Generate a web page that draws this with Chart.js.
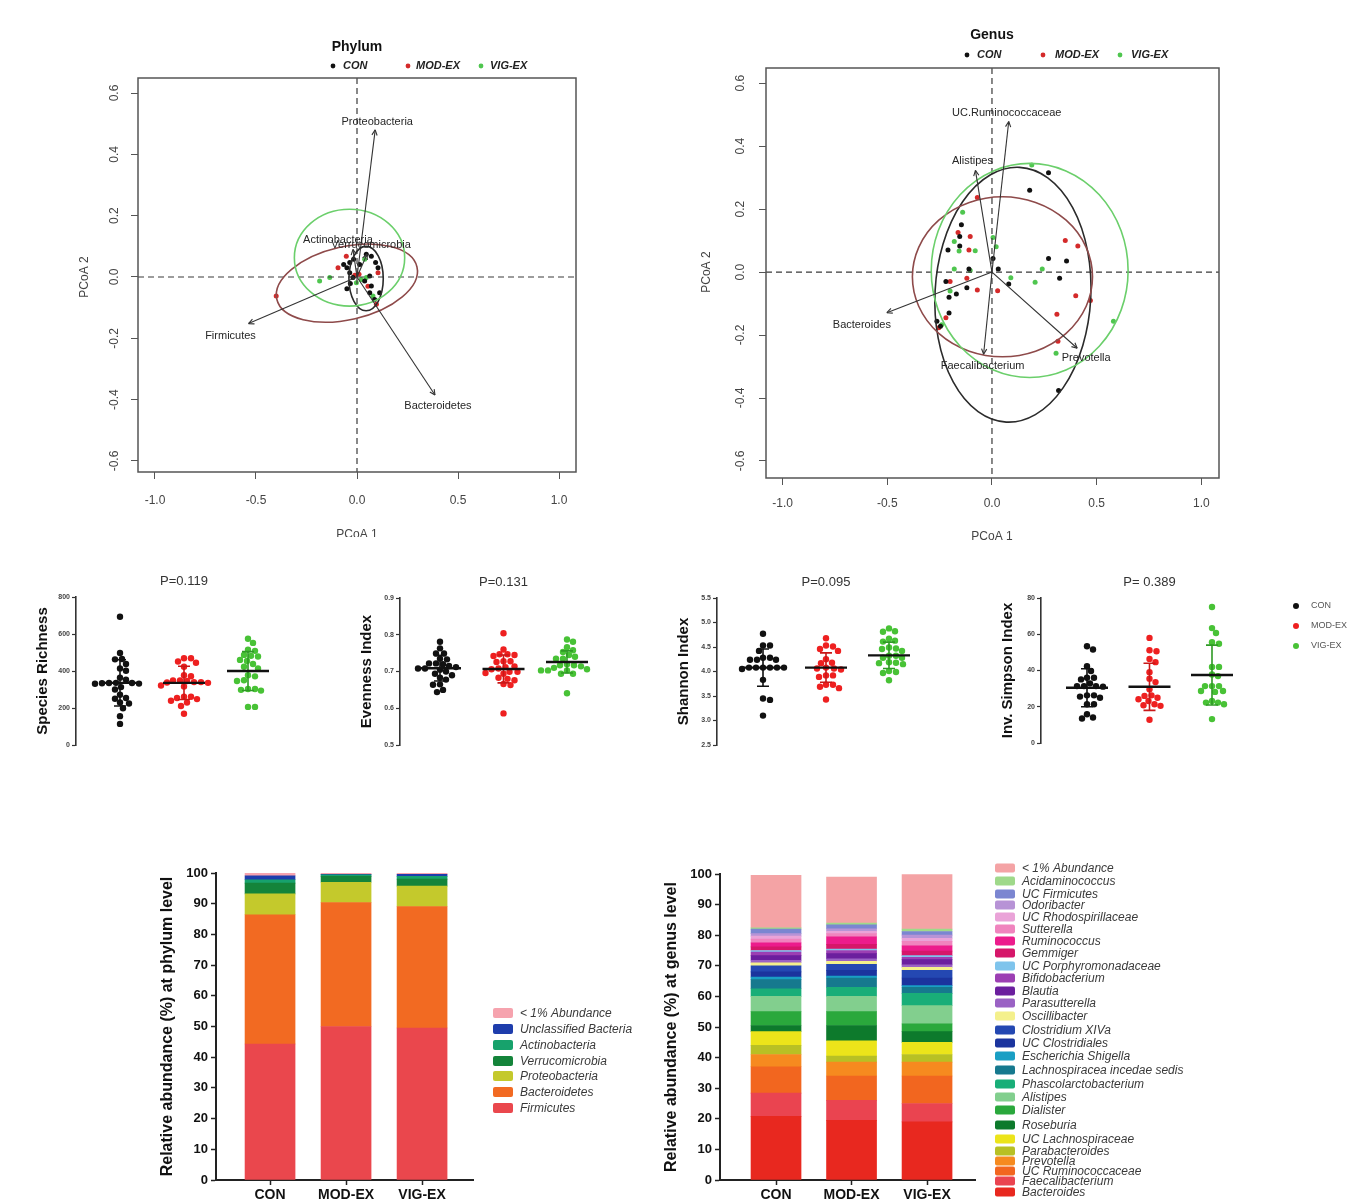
<!DOCTYPE html>
<html lang="en">
<head>
<meta charset="utf-8">
<title>Gut microbiota by exercise group: PCoA, alpha diversity and relative abundance</title>
<script src="https://cdn.jsdelivr.net/npm/chart.js@4.4.1/dist/chart.umd.min.js"></script>
<style>
  html, body { margin: 0; padding: 0; background: #ffffff; }
  body { position: relative; width: 1361px; height: 1204px; overflow: hidden; }
  canvas { position: absolute; display: block; }
</style>
</head>
<body>
<script>
// ---------------------------------------------------------------- data
const groups = ['CON', 'MOD-EX', 'VIG-EX'];

// PCoA (phylum level): sample scores [PCoA 1, PCoA 2]
const phylumCON = [[-0.066,0.041],[-0.05,0.03],[-0.036,0.014],[-0.033,-0.021],[-0.05,-0.038],[-0.017,0.058],
  [0.046,0.074],[0.071,0.068],[0.092,0.047],[0.104,0.03],[0.063,0.003],[0.038,-0.013],[0.071,-0.029],
  [0.063,-0.051],[0.112,-0.051],[-0.036,0.047],[0.013,0.041],[-0.02,-0.002],[0.087,-0.073]];
const phylumMOD = [[-0.4,-0.062],[-0.094,0.03],[-0.053,0.068],[0.104,0.014],[0.096,-0.089],[0.01,0.009],
  [0.054,-0.03],[-0.011,0.006]];
const phylumVIG = [[-0.185,-0.013],[-0.135,-0.002],[0.021,-0.008],[0.046,-0.002],[-0.003,-0.019],
  [0.079,-0.062],[0.038,0.058]];
// fitted phylum vectors
const phylumVectorNames = ['Proteobacteria', 'Firmicutes', 'Bacteroidetes', 'Actinobacteria', 'Verrucomicrobia'];
const phylumVectorX = [0.09, -0.537, 0.386, -0.02, 0.05];
const phylumVectorY = [0.48, -0.152, -0.385, 0.09, 0.075];
// group ellipses: centre, half-axes, tilt (deg)
const phylumEllipseCX = [0.045, -0.05, -0.037];
const phylumEllipseCY = [-0.005, -0.02, 0.063];
const phylumEllipseRX = [0.085, 0.356, 0.273];
const phylumEllipseRY = [0.105, 0.119, 0.158];
const phylumEllipseTilt = [0, -13, 0];

// PCoA (genus level)
const genusCON = [[0.27,0.315],[0.18,0.26],[-0.146,0.15],[-0.154,0.113],[-0.154,0.083],[-0.21,0.07],[-0.11,0.01],
  [0.005,0.043],[0.03,0.01],[0.27,0.043],[0.356,0.035],[0.323,-0.02],[0.08,-0.038],[-0.17,-0.07],[-0.205,-0.08],
  [-0.205,-0.13],[-0.263,-0.156],[-0.246,-0.172],[0.318,-0.376],[-0.22,-0.03],[-0.12,-0.05]];
const genusMOD = [[-0.07,0.237],[-0.162,0.126],[-0.104,0.113],[-0.12,-0.02],[-0.07,-0.057],[0.027,-0.059],
  [0.35,0.10],[0.41,0.083],[0.40,-0.075],[0.47,-0.09],[0.31,-0.134],[0.315,-0.22],[-0.254,-0.177],
  [-0.22,-0.145],[-0.2,-0.03],[-0.11,0.07]];
const genusVIG = [[-0.18,0.097],[-0.157,0.067],[-0.08,0.068],[-0.18,0.01],[-0.104,0.005],[0.02,0.08],
  [0.005,0.11],[0.09,-0.018],[0.206,-0.032],[0.24,0.01],[-0.24,-0.167],[0.306,-0.258],[0.58,-0.156],
  [-0.2,-0.06],[0.19,0.34],[-0.14,0.19]];
const genusVectorNames = ['UC.Ruminococcaceae', 'Alistipes', 'Bacteroides', 'Faecalibacterium', 'Prevotella'];
const genusVectorX = [0.08, -0.079, -0.502, -0.04, 0.407];
const genusVectorY = [0.478, 0.323, -0.129, -0.261, -0.242];
const genusEllipseCX = [0.1, 0.05, 0.18];
const genusEllipseCY = [-0.072, -0.015, 0.005];
const genusEllipseRX = [0.372, 0.43, 0.47];
const genusEllipseRY = [0.405, 0.254, 0.34];
const genusEllipseTilt = [3, 0, 0];

const pcoaXTicks = [-1.0, -0.5, 0.0, 0.5, 1.0];
const pcoaYTicks = [-0.6, -0.4, -0.2, 0.0, 0.2, 0.4, 0.6];

// Alpha diversity, one value per subject
const richCON = [693,497,465,463,438,414,401,364,353,336,335,335,334,332,331,313,300,272,254,250,230,224,199,156,114];
const richMOD = [469,469,451,445,423,377,372,349,349,346,340,340,338,336,322,316,261,261,254,248,239,230,211,169];
const richVIG = [574,552,515,509,487,482,478,460,454,438,423,414,377,371,350,346,303,303,298,294,206,206];
const richMean = [336, 336, 400];
const richSD = [125, 90, 105];

const evenCON = [0.781,0.763,0.749,0.749,0.735,0.733,0.722,0.720,0.722,0.715,0.712,0.708,0.705,0.708,0.700,0.694,0.690,0.683,0.678,0.664,0.665,0.644,0.650];
const evenMOD = [0.804,0.760,0.747,0.745,0.747,0.742,0.728,0.728,0.726,0.714,0.712,0.708,0.706,0.699,0.699,0.696,0.694,0.683,0.680,0.676,0.666,0.663,0.586];
const evenVIG = [0.787,0.781,0.766,0.758,0.753,0.745,0.740,0.735,0.735,0.720,0.717,0.717,0.714,0.710,0.706,0.703,0.703,0.703,0.694,0.694,0.641];
const evenMean = [0.709, 0.707, 0.726];
const evenSD = [0.035, 0.038, 0.03];

const shanCON = [4.77,4.53,4.53,4.42,4.28,4.28,4.24,4.24,4.24,4.08,4.08,4.08,4.08,4.08,4.08,4.05,3.83,3.45,3.42,3.10];
const shanMOD = [4.68,4.53,4.51,4.46,4.42,4.25,4.18,4.17,4.08,4.06,4.06,4.04,3.92,3.92,3.89,3.73,3.73,3.69,3.66,3.43];
const shanVIG = [4.88,4.82,4.81,4.67,4.63,4.61,4.49,4.47,4.46,4.42,4.32,4.32,4.28,4.28,4.19,4.18,4.17,4.15,4.01,3.99,3.97,3.82];
const shanMean = [4.08, 4.08, 4.33];
const shanSD = [0.38, 0.3, 0.27];

const simpCON = [53.4,51.6,42.4,39.7,36.0,36.0,35.1,32.9,31.4,31.4,31.1,31.4,26.3,26.3,25.6,25.0,21.4,21.4,15.9,13.5,14.1];
const simpMOD = [58,50.6,51.2,46.4,44.6,39.1,35.5,33.6,29.6,26.3,26.0,25.0,24.1,23.2,21.4,20.8,20.5,12.8];
const simpVIG = [75,63.4,60.7,55.6,54.8,42.0,42.0,37.8,36.9,31.4,31.4,31.4,28.7,28.7,28.2,23.2,22.3,22.3,21.4,13.2];
const simpMean = [30.5, 31, 37.5];
const simpSD = [10.5, 13, 16.5];

const richTicks = [0, 200, 400, 600, 800];
const evenTicks = [0.5, 0.6, 0.7, 0.8, 0.9];
const shanTicks = [2.5, 3.0, 3.5, 4.0, 4.5, 5.0, 5.5];
const simpTicks = [0, 20, 40, 60, 80];

// Relative abundance (%), taxa listed from the bottom of each stack upward
const phylumTaxa = ['Firmicutes', 'Bacteroidetes', 'Proteobacteria', 'Verrucomicrobia', 'Actinobacteria',
  'Unclassified Bacteria', '< 1% Abundance'];
const phylumCONpct = [44.3, 42.1, 6.8, 3.5, 1.1, 1.3, 0.9];
const phylumMODpct = [50.0, 40.4, 6.6, 1.9, 0.5, 0.2, 0.4];
const phylumVIGpct = [49.5, 39.6, 6.6, 2.3, 0.9, 0.7, 0.4];

const genusTaxa = ['Bacteroides', 'Faecalibacterium', 'UC Ruminococcaceae', 'Prevotella', 'Parabacteroides',
  'UC Lachnospiraceae', 'Roseburia', 'Dialister', 'Alistipes', 'Phascolarctobacterium',
  'Lachnospiracea incedae sedis', 'Escherichia Shigella', 'UC Clostridiales', 'Clostridium XIVa',
  'Oscillibacter', 'Parasutterella', 'Blautia', 'Bifidobacterium', 'UC Porphyromonadaceae', 'Gemmiger',
  'Ruminococcus', 'Sutterella', 'UC Rhodospirillaceae', 'Odoribacter', 'UC Firmicutes', 'Acidaminococcus',
  '< 1% Abundance'];
const genusCONpct = [20.8,7.6,8.6,4.0,3.0,4.5,2.0,4.5,5.0,2.5,3.0,0.8,1.7,2.0,1.0,0.8,1.5,1.2,0.5,1.2,1.3,1.2,1.0,0.8,1.5,0.4,17.2];
const genusMODpct = [19.5,6.5,8.0,4.5,2.0,5.0,5.0,4.5,5.0,3.0,3.0,0.6,1.9,2.0,1.0,0.8,1.7,1.0,0.5,1.5,2.5,1.0,0.8,0.8,1.3,0.6,15.0];
const genusVIGpct = [19.0,6.0,9.0,4.5,2.5,4.0,3.5,2.5,6.0,4.0,2.0,0.5,2.5,2.5,1.0,0.8,1.7,0.8,0.5,1.5,1.7,1.5,1.0,1.0,1.2,0.8,17.8];

// ---------------------------------------------------------------- styles
const FONT = '"Liberation Sans", Arial, Helvetica, sans-serif';
Chart.defaults.font.family = FONT;
Chart.defaults.animation = false;
Chart.defaults.events = [];
Chart.defaults.plugins.legend.display = false;
Chart.defaults.plugins.tooltip.enabled = false;

const PCOA_POINT = ['#111111', '#d42a2a', '#4fc64f'];
const PCOA_RING = ['#2b2b2b', '#8e4a4a', '#6bcf6b'];
const ALPHA_POINT = ['#111111', '#ee2020', '#48c236'];
const ALPHA_BAR = ['#111111', '#c81818', '#2f9a25'];

const phylumColors = ['#ea474d', '#f26a22', '#c4c92c', '#14843a', '#17a26c', '#1e3dac', '#f6a3ae'];
const genusColors = ['#e8281f', '#ea4450', '#f2661f', '#f68a1f', '#b8c024', '#ece41a', '#0d7a2c', '#2aa83c',
  '#82cf8e', '#19ae78', '#16798e', '#1a9fc4', '#1b349e', '#2448b2', '#f4f08c', '#9a62c4', '#6b1f9e',
  '#9c3fb3', '#7fc4ec', '#d6176a', '#ec1c8c', '#f084be', '#eaa3d8', '#b793d6', '#7b86d1', '#9fd98a', '#f4a3a5'];

function makeCanvas(left, top, w, h) {
  const c = document.createElement('canvas');
  c.width = w; c.height = h;
  c.style.left = left + 'px'; c.style.top = top + 'px';
  c.style.width = w + 'px'; c.style.height = h + 'px';
  document.body.appendChild(c);
  return c;
}

function arrow(ctx, x0, y0, x1, y1) {
  const ang = Math.atan2(y1 - y0, x1 - x0), h = 6, w = 0.45;
  ctx.beginPath(); ctx.moveTo(x0, y0); ctx.lineTo(x1, y1); ctx.stroke();
  ctx.beginPath();
  ctx.moveTo(x1, y1);
  ctx.lineTo(x1 - h * Math.cos(ang - w), y1 - h * Math.sin(ang - w));
  ctx.moveTo(x1, y1);
  ctx.lineTo(x1 - h * Math.cos(ang + w), y1 - h * Math.sin(ang + w));
  ctx.stroke();
}

// ---------------------------------------------------------------- PCoA biplots
function drawPcoa(o) {
  const canvas = makeCanvas(o.left, o.top, o.width, o.height);
  const datasets = o.points.map((pts, g) => ({
    label: groups[g],
    data: pts.map(p => ({ x: p[0], y: p[1] })),
    pointRadius: 2.5, pointBackgroundColor: PCOA_POINT[g], pointBorderWidth: 0
  }));
  const decor = {
    id: 'pcoaDecor',
    afterDatasetsDraw(chart) {
      const { ctx, chartArea: a } = chart;
      const xs = chart.scales.x, ys = chart.scales.y;
      const px = v => xs.getPixelForValue(v), py = v => ys.getPixelForValue(v);
      ctx.save();
      // dashed lines through the origin
      ctx.strokeStyle = '#3a3a3a'; ctx.lineWidth = 1.2; ctx.setLineDash([6, 4]);
      ctx.beginPath();
      ctx.moveTo(a.left, py(0)); ctx.lineTo(a.right, py(0));
      ctx.moveTo(px(0), a.top); ctx.lineTo(px(0), a.bottom);
      ctx.stroke();
      ctx.setLineDash([]);
      // group ellipses
      o.ell.cx.forEach((cx, g) => {
        const cxp = px(cx), cyp = py(o.ell.cy[g]);
        const rxp = px(cx + o.ell.rx[g]) - cxp;
        const ryp = cyp - py(o.ell.cy[g] + o.ell.ry[g]);
        ctx.beginPath();
        ctx.ellipse(cxp, cyp, rxp, ryp, o.ell.tilt[g] * Math.PI / 180, 0, Math.PI * 2);
        ctx.strokeStyle = PCOA_RING[g]; ctx.lineWidth = 1.6; ctx.stroke();
      });
      // taxon vectors
      ctx.strokeStyle = '#333'; ctx.lineWidth = 1.1;
      o.vec.names.forEach((n, i) => arrow(ctx, px(0), py(0), px(o.vec.x[i]), py(o.vec.y[i])));
      ctx.font = '11px ' + FONT; ctx.fillStyle = '#262626';
      ctx.textAlign = 'center'; ctx.textBaseline = 'middle';
      o.vec.names.forEach((n, i) => {
        const off = o.labelOffset[i];
        ctx.fillText(n, px(o.vec.x[i]) + off[0], py(o.vec.y[i]) + off[1]);
      });
      // frame
      ctx.strokeStyle = '#555'; ctx.lineWidth = 1.5;
      ctx.strokeRect(a.left, a.top, a.right - a.left, a.bottom - a.top);
      // y tick labels, parallel to the axis
      ctx.font = '12px ' + FONT; ctx.fillStyle = '#444';
      pcoaYTicks.forEach(v => {
        ctx.save(); ctx.translate(a.left - o.yLabelGap, py(v)); ctx.rotate(-Math.PI / 2);
        ctx.fillText(v.toFixed(1), 0, 0); ctx.restore();
      });
      // axis titles
      ctx.fillText('PCoA 1', px(0), a.bottom + o.xTitleGap);
      ctx.save(); ctx.translate(a.left - o.yTitleGap, py(0)); ctx.rotate(-Math.PI / 2);
      ctx.fillText('PCoA 2', 0, 0); ctx.restore();
      // title and group key
      ctx.font = 'bold 14px ' + FONT; ctx.fillStyle = '#111';
      ctx.fillText(o.title, px(0), o.titleY);
      ctx.font = 'italic bold 11px ' + FONT; ctx.textAlign = 'left';
      groups.forEach((g, i) => {
        ctx.beginPath(); ctx.arc(o.keyDotX[i], o.keyY, 2.4, 0, Math.PI * 2);
        ctx.fillStyle = PCOA_POINT[i]; ctx.fill();
        ctx.fillStyle = '#222'; ctx.fillText(g, o.keyTextX[i], o.keyY);
      });
      ctx.restore();
    }
  };
  return new Chart(canvas, {
    type: 'scatter',
    data: { datasets },
    options: {
      responsive: false,
      layout: { padding: { left: o.pad[0], top: o.pad[1], right: o.pad[2], bottom: 0 } },
      scales: {
        x: {
          type: 'linear', min: o.xRange[0], max: o.xRange[1],
          afterBuildTicks: s => { s.ticks = pcoaXTicks.map(v => ({ value: v })); },
          afterFit: s => { s.height = o.xAxisHeight; },
          ticks: { color: '#444', font: { size: 12 }, padding: o.xLabelPad, maxRotation: 0, minRotation: 0,
            autoSkip: false, callback: v => Number(v).toFixed(1) },
          grid: { drawOnChartArea: false, drawTicks: true, tickLength: 7, tickColor: '#555', tickWidth: 1 },
          border: { display: false }
        },
        y: {
          type: 'linear', min: o.yRange[0], max: o.yRange[1],
          afterBuildTicks: s => { s.ticks = pcoaYTicks.map(v => ({ value: v })); },
          afterFit: s => { s.width = 0; },
          ticks: { display: false },
          grid: { drawOnChartArea: false, drawTicks: true, tickLength: 7, tickColor: '#555', tickWidth: 1 },
          border: { display: false }
        }
      }
    },
    plugins: [decor]
  });
}

drawPcoa({
  left: 60, top: 20, width: 560, height: 517,
  pad: [78, 58, 44], xAxisHeight: 65, xLabelPad: 14,
  xRange: [-1.084, 1.084], yRange: [-0.636, 0.649],
  points: [phylumCON, phylumMOD, phylumVIG],
  ell: { cx: phylumEllipseCX, cy: phylumEllipseCY, rx: phylumEllipseRX, ry: phylumEllipseRY, tilt: phylumEllipseTilt },
  vec: { names: phylumVectorNames, x: phylumVectorX, y: phylumVectorY },
  labelOffset: [[2, -8], [-18, 12], [3, 11], [-15, -9], [4, -9]],
  yLabelGap: 23, yTitleGap: 53, xTitleGap: 63,
  title: 'Phylum', titleY: 27, keyY: 46, keyDotX: [273, 348, 421], keyTextX: [283, 356, 430]
});

drawPcoa({
  left: 690, top: 10, width: 560, height: 545,
  pad: [76, 58, 31], xAxisHeight: 77, xLabelPad: 11,
  xRange: [-1.079, 1.084], yRange: [-0.654, 0.648],
  points: [genusCON, genusMOD, genusVIG],
  ell: { cx: genusEllipseCX, cy: genusEllipseCY, rx: genusEllipseRX, ry: genusEllipseRY, tilt: genusEllipseTilt },
  vec: { names: genusVectorNames, x: genusVectorX, y: genusVectorY },
  labelOffset: [[-2, -9], [-3, -9], [-25, 12], [-1, 12], [9, 10]],
  yLabelGap: 25, yTitleGap: 59, xTitleGap: 59,
  title: 'Genus', titleY: 25, keyY: 45, keyDotX: [277, 353, 430], keyTextX: [287, 365, 441]
});

// ---------------------------------------------------------------- alpha diversity dot plots
// sideways spread so that dots of similar height do not sit on top of each other
function swarmOffsets(pys, sep) {
  const order = pys.map((p, i) => i).sort((a, b) => pys[a] - pys[b]);
  const placed = [], offs = new Array(pys.length);
  const d2 = sep * sep;
  order.forEach(i => {
    let best = 0;
    for (let k = 0; k < 400; k++) {
      const o = k === 0 ? 0 : (k % 2 ? 1 : -1) * Math.ceil(k / 2);
      if (placed.every(p => (p.x - o) ** 2 + (p.y - pys[i]) ** 2 >= d2)) { best = o; break; }
    }
    placed.push({ x: best, y: pys[i] });
    offs[i] = best;
  });
  return offs;
}

function drawAlpha(o) {
  const top = 560, height = 200, leftGap = 56, rightPad = 10;
  const spacing = (o.groupX[2] - o.groupX[0]) / 2;
  const left = o.axisX - leftGap;
  const width = o.width || (o.groupX[2] - o.axisX + 100);
  const canvas = makeCanvas(left, top, width, height);
  const xMin = 1 - (o.groupX[0] - o.axisX) / spacing;
  const xMax = xMin + (width - leftGap - rightPad) / spacing;
  const R = 3.2;
  const datasets = o.values.map((vals, g) => ({
    label: groups[g],
    data: vals.map(v => ({ x: g + 1, y: v })),
    pointRadius: R, pointBackgroundColor: ALPHA_POINT[g], pointBorderWidth: 0
  }));
  const decor = {
    id: 'alphaDecor',
    afterDatasetsDraw(chart) {
      const { ctx, chartArea: a } = chart;
      const xs = chart.scales.x, ys = chart.scales.y;
      ctx.save();
      o.mean.forEach((m, g) => {
        const cx = xs.getPixelForValue(g + 1);
        const ym = ys.getPixelForValue(m);
        const yt = ys.getPixelForValue(m + o.sd[g]), yb = ys.getPixelForValue(m - o.sd[g]);
        ctx.strokeStyle = ALPHA_BAR[g]; ctx.lineWidth = 1.6;
        ctx.beginPath();
        ctx.moveTo(cx, yt); ctx.lineTo(cx, yb);
        ctx.moveTo(cx - 6, yt); ctx.lineTo(cx + 6, yt);
        ctx.moveTo(cx - 6, yb); ctx.lineTo(cx + 6, yb);
        ctx.stroke();
        ctx.strokeStyle = '#111'; ctx.lineWidth = 2.4;
        ctx.beginPath(); ctx.moveTo(cx - 21, ym); ctx.lineTo(cx + 21, ym); ctx.stroke();
      });
      ctx.textAlign = 'center'; ctx.textBaseline = 'middle';
      ctx.font = '13px ' + FONT; ctx.fillStyle = '#333';
      ctx.fillText(o.title, xs.getPixelForValue(2), a.top - 16);
      ctx.font = 'bold 15px ' + FONT; ctx.fillStyle = '#111';
      ctx.save(); ctx.translate(a.left - 33, (a.top + a.bottom) / 2); ctx.rotate(-Math.PI / 2);
      ctx.fillText(o.yTitle, 0, 0); ctx.restore();
      if (o.key) {
        ctx.font = '9px ' + FONT; ctx.textAlign = 'left';
        groups.forEach((g, i) => {
          const yy = o.key.y + i * 20;
          ctx.beginPath(); ctx.arc(o.key.dotX, yy, 3, 0, Math.PI * 2);
          ctx.fillStyle = ALPHA_POINT[i]; ctx.fill();
          ctx.fillStyle = '#555'; ctx.fillText(g, o.key.textX, yy);
        });
      }
      ctx.restore();
    }
  };
  const chart = new Chart(canvas, {
    type: 'scatter',
    data: { datasets },
    options: {
      responsive: false,
      layout: { padding: { left: leftGap - 22, top: o.top - top, right: rightPad, bottom: height - (o.bottom - top) } },
      scales: {
        x: { type: 'linear', display: false, min: xMin, max: xMax },
        y: {
          type: 'linear', min: o.ticks[0], max: o.ticks[o.ticks.length - 1],
          afterBuildTicks: s => { s.ticks = o.ticks.map(v => ({ value: v })); },
          afterFit: s => { s.width = 22; },
          ticks: { font: { size: 7, weight: 'bold' }, color: '#444', padding: 2, autoSkip: false,
            callback: v => o.fmt(Number(v)) },
          grid: { drawOnChartArea: false, drawTicks: true, tickLength: 4, tickColor: '#333', tickWidth: 1.2 },
          border: { display: true, color: '#333', width: 1.6 }
        }
      }
    },
    plugins: [decor]
  });
  const xs = chart.scales.x, ys = chart.scales.y;
  const unit = xs.getPixelForValue(2) - xs.getPixelForValue(1);
  chart.data.datasets.forEach((ds, g) => {
    const offs = swarmOffsets(o.values[g].map(v => ys.getPixelForValue(v)), 2 * R * 0.97);
    ds.data = o.values[g].map((v, i) => ({ x: g + 1 + offs[i] / unit, y: v }));
  });
  chart.update();
  return chart;
}

drawAlpha({ axisX: 76, groupX: [120, 185, 248], top: 597, bottom: 745,
  values: [richCON, richMOD, richVIG], mean: richMean, sd: richSD, ticks: richTicks,
  fmt: v => String(v), title: 'P=0.119', yTitle: 'Species Richness' });
drawAlpha({ axisX: 400, groupX: [440, 504, 567], top: 598, bottom: 745,
  values: [evenCON, evenMOD, evenVIG], mean: evenMean, sd: evenSD, ticks: evenTicks,
  fmt: v => v.toFixed(1), title: 'P=0.131', yTitle: 'Evenness Index' });
drawAlpha({ axisX: 717, groupX: [763, 826, 889], top: 598, bottom: 745,
  values: [shanCON, shanMOD, shanVIG], mean: shanMean, sd: shanSD, ticks: shanTicks,
  fmt: v => v.toFixed(1), title: 'P=0.095', yTitle: 'Shannon Index' });
drawAlpha({ axisX: 1041, groupX: [1087, 1149, 1212], top: 598, bottom: 743, width: 376,
  values: [simpCON, simpMOD, simpVIG], mean: simpMean, sd: simpSD, ticks: simpTicks,
  fmt: v => String(v), title: 'P= 0.389', yTitle: 'Inv. Simpson Index',
  key: { dotX: 311, textX: 326, y: 46 } });

// ---------------------------------------------------------------- stacked relative abundance
function drawStack(o) {
  const canvas = makeCanvas(o.left, o.top, o.width, o.height);
  const pct = [o.con, o.mod, o.vig];
  const datasets = o.taxa.map((name, i) => ({
    label: name,
    data: pct.map((arr, g) => ({ x: g + 1, y: arr[i] })),
    backgroundColor: o.colors[i], borderWidth: 0, barThickness: o.barWidth
  }));
  const decor = {
    id: 'stackDecor',
    afterDraw(chart) {
      const { ctx, chartArea: a } = chart;
      ctx.save();
      ctx.font = 'bold 16px ' + FONT; ctx.fillStyle = '#111';
      ctx.textAlign = 'center'; ctx.textBaseline = 'middle';
      ctx.save(); ctx.translate(o.yTitleX, (a.top + a.bottom) / 2); ctx.rotate(-Math.PI / 2);
      ctx.fillText(o.yTitle, 0, 0); ctx.restore();
      ctx.font = 'italic 12px ' + FONT; ctx.textAlign = 'left';
      const n = o.taxa.length;
      for (let k = 0; k < n; k++) {
        const i = n - 1 - k, yy = o.keyY[k];
        ctx.fillStyle = o.colors[i];
        ctx.beginPath();
        ctx.roundRect(o.keyBoxX, yy - o.keyBoxH / 2, 20, o.keyBoxH, 2);
        ctx.fill();
        ctx.fillStyle = '#3a3a3a';
        ctx.fillText(o.taxa[i], o.keyTextX, yy + 0.5);
      }
      ctx.restore();
    }
  };
  return new Chart(canvas, {
    type: 'bar',
    data: { datasets },
    options: {
      responsive: false,
      layout: { padding: { left: o.chartLeft - 40, top: o.chartTop, right: o.width - o.chartRight, bottom: 0 } },
      scales: {
        x: {
          type: 'linear', stacked: true, offset: false, min: o.xRange[0], max: o.xRange[1],
          afterBuildTicks: s => { s.ticks = [1, 2, 3].map(v => ({ value: v })); },
          afterFit: s => { s.height = o.height - o.chartBottom; },
          ticks: { font: { size: 14, weight: 'bold' }, color: '#111', padding: 2, maxRotation: 0, minRotation: 0,
            autoSkip: false, callback: v => groups[Math.round(v) - 1] },
          grid: { offset: false, drawOnChartArea: false, drawTicks: true, tickLength: 5, tickColor: '#222', tickWidth: 1.5 },
          border: { display: true, color: '#222', width: 2 }
        },
        y: {
          stacked: true, min: 0, max: 100,
          afterFit: s => { s.width = 40; },
          ticks: { stepSize: 10, font: { size: 13, weight: 'bold' }, color: '#111', padding: 3 },
          grid: { drawOnChartArea: false, drawTicks: true, tickLength: 5, tickColor: '#222', tickWidth: 1.5 },
          border: { display: true, color: '#222', width: 2 }
        }
      }
    },
    plugins: [decor]
  });
}

drawStack({
  left: 150, top: 845, width: 520, height: 359,
  chartLeft: 66, chartRight: 323, chartTop: 28, chartBottom: 335,
  xRange: [0.289, 3.67], barWidth: 50,
  taxa: phylumTaxa, colors: phylumColors, con: phylumCONpct, mod: phylumMODpct, vig: phylumVIGpct,
  yTitle: 'Relative abundance (%) at phylum level', yTitleX: 18,
  keyBoxX: 343, keyBoxH: 10, keyTextX: 370,
  keyY: [168, 184, 200, 216, 231, 247, 263]
});

drawStack({
  left: 660, top: 845, width: 701, height: 359,
  chartLeft: 60, chartRight: 315, chartTop: 29, chartBottom: 335,
  xRange: [0.258, 3.635], barWidth: 50,
  taxa: genusTaxa, colors: genusColors, con: genusCONpct, mod: genusMODpct, vig: genusVIGpct,
  yTitle: 'Relative abundance (%) at genus level', yTitleX: 12,
  keyBoxX: 335, keyBoxH: 9, keyTextX: 362,
  keyY: [23, 36, 49, 60, 72, 84, 96, 108, 121, 133, 146, 158, 171, 185, 198, 211, 225, 239, 252, 265,
    280, 294, 306, 316, 326, 336, 347]
});
</script>
</body>
</html>
